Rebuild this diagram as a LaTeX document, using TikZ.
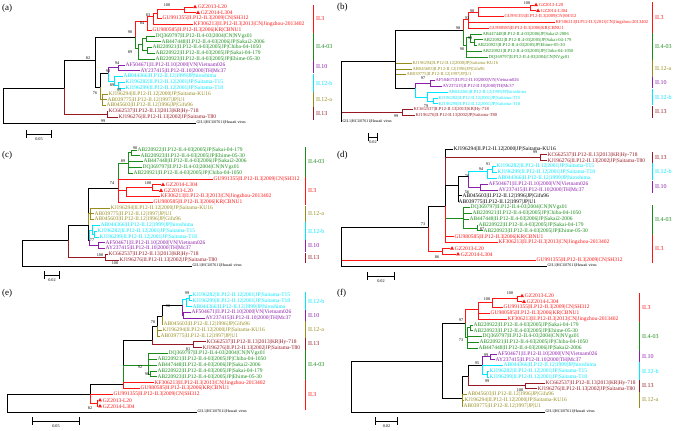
\documentclass[tikz,border=0pt]{standalone}
\usepackage{fontspec}
\setmainfont{Liberation Serif}
\usetikzlibrary{positioning,shapes.geometric}
\definecolor{cR}{RGB}{255,20,20}
\definecolor{cG}{RGB}{25,140,25}
\definecolor{cP}{RGB}{140,30,170}
\definecolor{cC}{RGB}{0,230,255}
\definecolor{cO}{RGB}{150,140,30}
\definecolor{cD}{RGB}{150,25,35}
\newcommand{\leafsize}{\fontsize{5.5}{5.8}\selectfont}
\newcommand{\smallleaf}{\fontsize{4.6}{5}\selectfont}
\newcommand{\outsize}{\fontsize{4}{4.4}\selectfont}
\newcommand{\bootsize}{\fontsize{4.2}{4.4}\selectfont}
\newcommand{\cladesize}{\fontsize{6}{6.5}\selectfont}

\begin{document}
\begin{tikzpicture}[x=1pt,y=-1pt,
  every edge/.append style={line width=.85pt, to path={|- (\tikztotarget)}},
  lf/.style={anchor=west, inner sep=.4pt, font=\leafsize},
  og/.style={anchor=west, inner sep=.4pt, font=\outsize},
  bs/.style={inner sep=0pt, font=\bootsize},
  tri/.style={regular polygon, regular polygon sides=3, fill=cR, inner sep=0pt, minimum size=4.6pt},
  clade/.style={line width=1pt},
  cl/.style={anchor=west, inner sep=0pt, xshift=2.5pt, font=\cladesize},
  panel/.style={anchor=west, inner sep=0pt, font=\fontsize{9}{10}\selectfont},
  sbar/.style={line width=.8pt, |-|},
  sl/.style={inner sep=0pt, font=\bootsize}]
\useasboundingbox (0,0) rectangle (675,431);

% ---------------- (a)
\node[panel] (a_lab) at (2,8) {(a)};
\coordinate (a_root) at (3,105);
\coordinate (a_n1) at (64,88);
\coordinate (a_n2) at (95,60);
\coordinate (a_n3) at (135,37);
\coordinate (a_r1) at (147,21);
\coordinate (a_r2) at (153,16);
\coordinate (a_r3) at (157,13);
\coordinate (a_r4) at (184,9.9);
\coordinate (a_g1) at (138,48);
\coordinate (a_g2) at (142,44.7);
\coordinate (a_g3) at (146,38.9);
\coordinate (a_g4) at (147,50.5);
\coordinate (a_n4) at (100,87);
\coordinate (a_n5) at (108,73);
\coordinate (a_p1) at (118,67.9);
\coordinate (a_c1) at (114,81);
\coordinate (a_c2) at (118,85.3);
\coordinate (a_o1) at (102,99.8);
\coordinate (a_n13) at (107,114.3);

\node[tri] (a_t1) at (195,7) {};
\node[lf,cR,right=.8pt of a_t1] (a_1) {GZ2013-L20};
\node[tri] (a_t2) at (198,12.8) {};
\node[lf,cR,right=.8pt of a_t2] (a_2) {GZ2014-L304};
\node[lf,cR] (a_3) at (162,18.6) {GU991355|II.P12-II.3|2009|CN|SH312};
\node[lf,cR] (a_4) at (193,24.4) {KF306213|II.P12-II.3|2013|CN|Jingzhou-2013402};
\node[lf,cR] (a_5) at (152,30.2) {GU980585|II.P12-II.3|2006|KR|CBNU1};
\node[lf,cG] (a_6) at (155,36) {DQ369797|II.P12-II.4-03|2004|CN|NVgz01};
\node[lf,cG] (a_7) at (161,41.8) {AB447448|II.P12-II.4-03|2006|JP|Sakai2-2006};
\node[lf,cG] (a_8) at (152,47.6) {AB220921|II.P12-II.4-03|2005|JP|Chiba-04-1050};
\node[lf,cG] (a_9) at (155,53.4) {AB220922|II.P12-II.4-03|2005|JP|Sakai-04-179};
\node[lf,cG] (a_10) at (155,59.2) {AB220923|II.P12-II.4-03|2005|JP|Ehime-05-30};
\node[lf,cP] (a_11) at (125,65) {AF504671|II.P12-II.10|2000|VN|Vietnam026};
\node[lf,cP] (a_12) at (140,70.8) {AY237415|II.P12-II.10|2000|TH|Mc37};
\node[lf,cC] (a_13) at (123,76.6) {AB044366|II.P12-II.12|1999|JP|hiroshima};
\node[lf,cC] (a_14) at (125,82.4) {KJ196282|II.P12-II.12|2001|JP|Saitama-T15};
\node[lf,cC] (a_15) at (125,88.2) {KJ196299|II.P12-II.12|2001|JP|Saitama-T18};
\node[lf,cO] (a_16) at (108,94) {KJ196294|II.P12-II.12|2000|JP|Saitama-KU16};
\node[lf,cO] (a_17) at (107,99.8) {AB039775|II.P12-II.12|1997|JP|U1};
\node[lf,cO] (a_18) at (106,105.6) {AB045603|II.P12-II.12|1996|JP|Gifu96};
\node[lf,cD] (a_19) at (108,111.4) {KC662537|II.P12-II.13|2013|KR|Hy-718};
\node[lf,cD] (a_20) at (118,117.2) {KJ196276|II.P12-II.13|2002|JP|Saitama-T80};
\node[og] (a_21) at (196,123) {GII.1|HCU07611|Hawaii virus};

\path (a_root) edge (a_n1) edge (a_21)
      (a_n1) edge (a_n2) edge[cD] (a_n13)
      (a_n2) edge (a_n3) edge (a_n4)
      (a_n3) edge[cR] (a_r1) edge[cG] (a_g1)
      (a_r1) edge[cR] (a_r2) edge[cR] (a_5)
      (a_r2) edge[cR] (a_r3) edge[cR] (a_4)
      (a_r3) edge[cR] (a_r4) edge[cR] (a_3)
      (a_r4) edge[cR] (a_t1) edge[cR] (a_t2)
      (a_g1) edge[cG] (a_g2) edge[cG] (a_10)
      (a_g2) edge[cG] (a_g3) edge[cG] (a_g4)
      (a_g3) edge[cG] (a_6) edge[cG] (a_7)
      (a_g4) edge[cG] (a_8) edge[cG] (a_9)
      (a_n4) edge (a_n5) edge[cO] (a_o1)
      (a_n5) edge[cP] (a_p1) edge[cC] (a_c1)
      (a_p1) edge[cP] (a_11) edge[cP] (a_12)
      (a_c1) edge[cC] (a_13) edge[cC] (a_c2)
      (a_c2) edge[cC] (a_14) edge[cC] (a_15)
      (a_o1) edge[cO] (a_16) edge[cO] (a_17) edge[cO] (a_18)
      (a_n13) edge[cD] (a_19) edge[cD] (a_20);

\node[bs] (a_b1) at (167,5.5) {100};
\node[bs] (a_b2) at (148,15.5) {83};
\node[bs] (a_b3) at (142,23) {84};
\node[bs] (a_b4) at (130,32) {90};
\node[bs] (a_b5) at (130,52) {89};
\node[bs] (a_b6) at (88,58) {82};
\node[bs] (a_b7) at (117,63) {94};
\node[bs] (a_b8) at (108,71) {93};
\node[bs] (a_b9) at (112,85.5) {89};
\node[bs] (a_b10) at (119,90.3) {99};
\node[bs] (a_b11) at (95,93) {76};
\node[bs] (a_b12) at (103,121) {99};

\draw[clade,cR] (313,5) -- (313,33) node[cl,midway] (a_q1) {II.3};
\draw[clade,cG] (313,33) -- (313,61) node[cl,midway] (a_q2) {II.4-03};
\draw[clade,cP] (313,61) -- (313,73) node[cl,midway] (a_q3) {II.10};
\draw[clade,cC] (313,74) -- (313,92) node[cl,midway] (a_q4) {II.12-b};
\draw[clade,cO] (313,92) -- (313,107) node[cl,midway] (a_q5) {II.12-a};
\draw[clade,cD] (313,107) -- (313,120) node[cl,midway] (a_q6) {II.13};

\coordinate (a_s1) at (26,134); \coordinate (a_s2) at (52,134);
\draw[sbar] (a_s1) -- (a_s2) node[sl,midway,below=3pt] (a_sl) {0.05};

% ---------------- (b)
\tikzset{lf/.append style={font=\smallleaf}}
\node[panel] (b_lab) at (337,7) {(b)};
\coordinate (b_root) at (341,90);
\coordinate (b_n1) at (395,61);
\coordinate (b_n2) at (463,30);
\coordinate (b_r1) at (468,19);
\coordinate (b_r2) at (478,12.5);
\coordinate (b_r4) at (530,7.9);
\coordinate (b_g1) at (466,45);
\coordinate (b_g2) at (470,37);
\coordinate (b_g3) at (474,42.8);
\coordinate (b_n3) at (415,88);
\coordinate (b_p1) at (430,83.6);
\coordinate (b_c1) at (427,97);
\coordinate (b_c2) at (433,101);
\coordinate (b_n13) at (402,112.7);

\node[tri] (b_t1) at (536,5) {};
\node[lf,cR,right=.8pt of b_t1] (b_1) {GZ2013-L20};
\node[tri] (b_t2) at (538,10.8) {};
\node[lf,cR,right=.8pt of b_t2] (b_2) {GZ2014-L304};
\node[lf,cR] (b_3) at (504,16.6) {GU991355|II.P12-II.3|2009|CN|SH312};
\node[lf,cR] (b_4) at (555,22.5) {KF306213|II.P12-II.3|2013|CN|Jingzhou-2013402};
\node[lf,cR] (b_5) at (489,28.3) {GU980585|II.P12-II.3|2006|KR|CBNU1};
\node[lf,cG] (b_6) at (482,34.1) {AB447448|II.P12-II.4-03|2006|JP|Sakai2-2006};
\node[lf,cG] (b_7) at (483,39.9) {AB220922|II.P12-II.4-03|2005|JP|Sakai-04-179};
\node[lf,cG] (b_8) at (477,45.7) {AB220923|II.P12-II.4-03|2005|JP|Ehime-05-30};
\node[lf,cG] (b_9) at (482,51.6) {AB220921|II.P12-II.4-03|2005|JP|Chiba-04-1050};
\node[lf,cG] (b_10) at (488,57.4) {DQ369797|II.P12-II.4-03|2004|CN|NVgz01};
\node[lf,cO] (b_11) at (412,63.2) {KJ196294|II.P12-II.12|2000|JP|Saitama-KU16};
\node[lf,cO] (b_12) at (412,69) {AB045603|II.P12-II.12|1996|JP|Gifu96};
\node[lf,cO] (b_13) at (406,74.8) {AB039775|II.P12-II.12|1997|JP|U1};
\node[lf,cP] (b_14) at (435,80.7) {AF504671|II.P12-II.10|2000|VN|Vietnam026};
\node[lf,cP] (b_15) at (442,86.5) {AY237415|II.P12-II.10|2000|TH|Mc37};
\node[lf,cC] (b_16) at (448,92.3) {AB044366|II.P12-II.12|1999|JP|hiroshima};
\node[lf,cC] (b_17) at (438,98.1) {KJ196282|II.P12-II.12|2001|JP|Saitama-T15};
\node[lf,cC] (b_18) at (438,103.9) {KJ196299|II.P12-II.12|2001|JP|Saitama-T18};
\node[lf,cD] (b_19) at (413,109.8) {KC662537|II.P12-II.13|2013|KR|Hy-718};
\node[lf,cD] (b_20) at (415,115.6) {KJ196276|II.P12-II.13|2002|JP|Saitama-T80};
\node[og] (b_21) at (342,121.4) {GII.1|HCU07611|Hawaii virus};

\path (b_root) edge (b_n1) edge[cD] (b_n13) edge (b_21)
      (b_n1) edge (b_n2) edge[cO] (b_11) edge[cO] (b_12) edge[cO] (b_13) edge (b_n3)
      (b_n2) edge[cR] (b_r1) edge[cG] (b_g1)
      (b_r1) edge[cR] (b_r2) edge[cR] (b_4) edge[cR] (b_5)
      (b_r2) edge[cR] (b_r4) edge[cR] (b_3)
      (b_r4) edge[cR] (b_t1) edge[cR] (b_t2)
      (b_g1) edge[cG] (b_g2) edge[cG] (b_9) edge[cG] (b_10)
      (b_g2) edge[cG] (b_6) edge[cG] (b_g3)
      (b_g3) edge[cG] (b_7) edge[cG] (b_8)
      (b_n3) edge[cP] (b_p1) edge[cC] (b_c1)
      (b_p1) edge[cP] (b_14) edge[cP] (b_15)
      (b_c1) edge[cC] (b_16) edge[cC] (b_c2)
      (b_c2) edge[cC] (b_17) edge[cC] (b_18)
      (b_n13) edge[cD] (b_19) edge[cD] (b_20);

\node[bs] (b_b1) at (527,3) {100};
\node[bs] (b_b2) at (472,11) {90};
\node[bs] (b_b3) at (467,18) {93};
\node[bs] (b_b4) at (458,28) {98};
\node[bs] (b_b5) at (470,38) {99};
\node[bs] (b_b6) at (462,49) {90};
\node[bs] (b_b7) at (423,78) {97};
\node[bs] (b_b8) at (426,106.4) {79};
\node[bs] (b_b9) at (396,116.5) {99};

\draw[clade,cR] (652,2) -- (652,33) node[cl,midway] (b_q1) {II.3};
\draw[clade,cG] (652,33) -- (652,60) node[cl,midway] (b_q2) {II.4-03};
\draw[clade,cO] (652,60) -- (652,77) node[cl,midway] (b_q3) {II.12-a};
\draw[clade,cP] (652,77) -- (652,88) node[cl,midway] (b_q4) {II.10};
\draw[clade,cC] (652,89) -- (652,105) node[cl,midway] (b_q5) {II.12-b};
\draw[clade,cD] (652,106) -- (652,118) node[cl,midway] (b_q6) {II.13};

\coordinate (b_s1) at (368,137); \coordinate (b_s2) at (378,137);
\draw[sbar] (b_s1) -- (b_s2) node[sl,midway,below=3pt] (b_sl) {0.02};
\tikzset{lf/.append style={font=\leafsize}}

% ---------------- (c)
\node[panel] (c_lab) at (2,155) {(c)};
\coordinate (c_root) at (22,253);
\coordinate (c_n1) at (68,240);
\coordinate (c_n2) at (88,225);
\coordinate (c_n3) at (118,188);
\coordinate (c_g1) at (128,163);
\coordinate (c_g2) at (131,152.9);
\coordinate (c_r1) at (126,190);
\coordinate (c_r2) at (152,187.7);
\coordinate (c_o1) at (90,213.8);
\coordinate (c_n4) at (89,240);
\coordinate (c_c1) at (92,230);
\coordinate (c_c2) at (94,234.1);
\coordinate (c_p1) at (98,245.7);
\coordinate (c_n13) at (105,257.3);

\node[lf,cG] (c_1) at (137,150) {AB220922|II.P12-II.4-03|2005|JP|Sakai-04-179};
\node[lf,cG] (c_2) at (140,155.8) {AB220923|II.P12-II.4-03|2005|JP|Ehime-05-30};
\node[lf,cG] (c_3) at (143,161.6) {AB447448|II.P12-II.4-03|2006|JP|Sakai2-2006};
\node[lf,cG] (c_4) at (142,167.4) {DQ369797|II.P12-II.4-03|2004|CN|NVgz01};
\node[lf,cG] (c_5) at (133,173.2) {AB220921|II.P12-II.4-03|2005|JP|Chiba-04-1050};
\node[lf,cR] (c_6) at (213,179) {GU991355|II.P12-II.3|2009|CN|SH312};
\node[tri] (c_t7) at (163,184.8) {};
\node[lf,cR,right=.8pt of c_t7] (c_7) {GZ2014-L304};
\node[tri] (c_t8) at (161,190.6) {};
\node[lf,cR,right=.8pt of c_t8] (c_8) {GZ2013-L20};
\node[lf,cR] (c_9) at (160,196.4) {KF306213|II.P12-II.3|2013|CN|Jingzhou-2013402};
\node[lf,cR] (c_10) at (153,202.2) {GU980585|II.P12-II.3|2006|KR|CBNU1};
\node[lf,cO] (c_11) at (110,208) {KJ196294|II.P12-II.12|2000|JP|Saitama-KU16};
\node[lf,cO] (c_12) at (94,213.8) {AB039775|II.P12-II.12|1997|JP|U1};
\node[lf,cO] (c_13) at (94,219.6) {AB045603|II.P12-II.12|1996|JP|Gifu96};
\node[lf,cC] (c_14) at (100,225.4) {AB044366|II.P12-II.12|1999|JP|hiroshima};
\node[lf,cC] (c_15) at (97,231.2) {KJ196282|II.P12-II.12|2001|JP|Saitama-T15};
\node[lf,cC] (c_16) at (99,237) {KJ196299|II.P12-II.12|2001|JP|Saitama-T18};
\node[lf,cP] (c_17) at (105,242.8) {AF504671|II.P12-II.10|2000|VN|Vietnam026};
\node[lf,cP] (c_18) at (105,248.6) {AY237415|II.P12-II.10|2000|TH|Mc37};
\node[lf,cD] (c_19) at (108,254.4) {KC662537|II.P12-II.13|2013|KR|Hy-718};
\node[lf,cD] (c_20) at (119,260.2) {KJ196276|II.P12-II.13|2002|JP|Saitama-T80};
\node[og] (c_21) at (192,266) {GII.1|HCU07611|Hawaii virus};

\path (c_root) edge (c_n1) edge (c_21)
      (c_n1) edge (c_n2) edge[cD] (c_n13)
      (c_n2) edge (c_n3) edge[cO] (c_o1) edge (c_n4)
      (c_n3) edge[cG] (c_g1) edge[cR] (c_6) edge[cR] (c_r1) edge[cR] (c_10)
      (c_g1) edge[cG] (c_g2) edge[cG] (c_3) edge[cG] (c_4) edge[cG] (c_5)
      (c_g2) edge[cG] (c_1) edge[cG] (c_2)
      (c_r1) edge[cR] (c_r2) edge[cR] (c_9)
      (c_r2) edge[cR] (c_t7) edge[cR] (c_t8)
      (c_o1) edge[cO] (c_11) edge[cO] (c_12) edge[cO] (c_13)
      (c_n4) edge[cC] (c_c1) edge[cP] (c_p1)
      (c_c1) edge[cC] (c_14) edge[cC] (c_c2)
      (c_c2) edge[cC] (c_15) edge[cC] (c_16)
      (c_p1) edge[cP] (c_17) edge[cP] (c_18)
      (c_n13) edge[cD] (c_19) edge[cD] (c_20);

\node[bs] (c_b1) at (135,148.5) {90};
\node[bs] (c_b2) at (123,161) {89};
\node[bs] (c_b3) at (112,183) {74};
\node[bs] (c_b4) at (148,183) {100};
\node[bs] (c_b5) at (92,240) {77};
\node[bs] (c_b6) at (100,255) {100};
\node[bs] (c_b7) at (115,263) {100};

\draw[clade,cG] (305,147) -- (305,177) node[cl,midway] (c_q1) {II.4-03};
\draw[clade,cR] (305,177) -- (305,205) node[cl,midway] (c_q2) {II.3};
\draw[clade,cO] (305,206) -- (305,222) node[cl,midway] (c_q3) {II.12-a};
\draw[clade,cC] (305,222) -- (305,240) node[cl,midway] (c_q4) {II.12-b};
\draw[clade,cP] (305,240) -- (305,252) node[cl,midway] (c_q5) {II.10};
\draw[clade,cD] (305,253) -- (305,263) node[cl,midway] (c_q6) {II.13};

\coordinate (c_s1) at (44,275); \coordinate (c_s2) at (60,275);
\draw[sbar] (c_s1) -- (c_s2) node[sl,midway,below=3pt] (c_sl) {0.02};

% ---------------- (d)
\node[panel] (d_lab) at (337,155) {(d)};
\coordinate (d_root) at (341,250);
\coordinate (d_n1) at (428,227);
\coordinate (d_n2) at (445,206);
\coordinate (d_n13) at (540,157.8);
\coordinate (d_n3) at (458,185);
\coordinate (d_n4) at (468,176);
\coordinate (d_c1) at (487,171);
\coordinate (d_c2) at (492,169.5);
\coordinate (d_p1) at (480,187);
\coordinate (d_g1) at (463,218);
\coordinate (d_g2) at (477,228);
\coordinate (d_r1) at (442,251.4);

\node[lf] (d_1) at (453,149) {KJ196294|II.P12-II.12|2000|JP|Saitama-KU16};
\node[lf,cD] (d_2) at (547,154.9) {KC662537|II.P12-II.13|2013|KR|Hy-718};
\node[lf,cD] (d_3) at (547,160.7) {KJ196276|II.P12-II.13|2002|JP|Saitama-T80};
\node[lf,cC] (d_4) at (496,166.6) {KJ196282|II.P12-II.12|2001|JP|Saitama-T15};
\node[lf,cC] (d_5) at (497,172.4) {KJ196299|II.P12-II.12|2001|JP|Saitama-T18};
\node[lf,cC] (d_6) at (497,178.3) {AB044366|II.P12-II.12|1999|JP|hiroshima};
\node[lf,cP] (d_7) at (488,184.1) {AF504671|II.P12-II.10|2000|VN|Vietnam026};
\node[lf,cP] (d_8) at (498,190) {AY237415|II.P12-II.10|2000|TH|Mc37};
\node[lf] (d_9) at (462,195.8) {AB045603|II.P12-II.12|1996|JP|Gifu96};
\node[lf] (d_10) at (458,201.7) {AB039775|II.P12-II.12|1997|JP|U1};
\node[lf,cG] (d_11) at (470,207.5) {DQ369797|II.P12-II.4-03|2004|CN|NVgz01};
\node[lf,cG] (d_12) at (472,213.4) {AB220921|II.P12-II.4-03|2005|JP|Chiba-04-1050};
\node[lf,cG] (d_13) at (469,219.2) {AB447448|II.P12-II.4-03|2006|JP|Sakai2-2006};
\node[lf,cG] (d_14) at (478,225.1) {AB220922|II.P12-II.4-03|2005|JP|Sakai-04-179};
\node[lf,cG] (d_15) at (483,230.9) {AB220923|II.P12-II.4-03|2005|JP|Ehime-05-30};
\node[lf,cR] (d_16) at (454,236.8) {GU980585|II.P12-II.3|2006|KR|CBNU1};
\node[lf,cR] (d_17) at (498,242.6) {KF306213|II.P12-II.3|2013|CN|Jingzhou-2013402};
\node[tri] (d_t18) at (452,248.5) {};
\node[lf,cR,right=.8pt of d_t18] (d_18) {GZ2013-L20};
\node[tri] (d_t19) at (458,254.3) {};
\node[lf,cR,right=.8pt of d_t19] (d_19) {GZ2014-L304};
\node[lf,cR] (d_20) at (536,260.2) {GU991355|II.P12-II.3|2009|CN|SH312};
\node[og] (d_21) at (547,266) {GII.1|HCU07611|Hawaii virus};

\path (d_root) edge (d_n1) edge[cR] (d_20) edge (d_21)
      (d_n1) edge (d_n2) edge[cR] (d_r1)
      (d_n2) edge (d_1) edge[cD] (d_n13) edge (d_n3) edge[cG] (d_g1) edge[cR] (d_16) edge[cR] (d_17)
      (d_n13) edge[cD] (d_2) edge[cD] (d_3)
      (d_n3) edge (d_n4) edge (d_9) edge (d_10)
      (d_n4) edge[cC] (d_c1) edge[cP] (d_p1)
      (d_c1) edge[cC] (d_c2) edge[cC] (d_6)
      (d_c2) edge[cC] (d_4) edge[cC] (d_5)
      (d_p1) edge[cP] (d_7) edge[cP] (d_8)
      (d_g1) edge[cG] (d_11) edge[cG] (d_12) edge[cG] (d_13) edge[cG] (d_g2)
      (d_g2) edge[cG] (d_14) edge[cG] (d_15)
      (d_r1) edge[cR] (d_t18) edge[cR] (d_t19);

\node[bs] (d_b1) at (535,152) {99};
\node[bs] (d_b2) at (488,164.5) {91};
\node[bs] (d_b3) at (481,169.5) {94};
\node[bs] (d_b4) at (467,176.5) {78};
\node[bs] (d_b5) at (467,192) {56};
\node[bs] (d_b6) at (423,224) {73};
\node[bs] (d_b7) at (482,229) {87};
\node[bs] (d_b8) at (437,257) {86};

\draw[clade,cD] (652,152) -- (652,163) node[cl,midway] (d_q1) {II.13};
\draw[clade,cC] (652,163) -- (652,180) node[cl,midway] (d_q2) {II.12-b};
\draw[clade,cP] (652,181) -- (652,193) node[cl,midway] (d_q3) {II.10};
\draw[clade,cG] (652,205) -- (652,235) node[cl,midway] (d_q4) {II.4-03};
\draw[clade,cR] (652,235) -- (652,263) node[cl,midway] (d_q5) {II.3};

\coordinate (d_s1) at (367,276); \coordinate (d_s2) at (395,276);
\draw[sbar] (d_s1) -- (d_s2) node[sl,midway,below=3pt] (d_sl) {0.02};

% ---------------- (e)
\node[panel] (e_lab) at (2,293) {(e)};
\coordinate (e_root) at (7,403);
\coordinate (e_n1) at (90,394.5);
\coordinate (e_r1) at (97,403.2);
\coordinate (e_n2) at (123,384);
\coordinate (e_n3) at (152,340);
\coordinate (e_n4) at (157,326);
\coordinate (e_n5) at (162,316);
\coordinate (e_n6) at (182,305);
\coordinate (e_c1) at (186,299);
\coordinate (e_c2) at (189,298);
\coordinate (e_p1) at (183,315.5);
\coordinate (e_n13) at (193,344.7);
\coordinate (e_g1) at (148,365);
\coordinate (e_g2) at (150,374);

\node[lf,cC] (e_1) at (192,295) {KJ196282|II.P12-II.12|2001|JP|Saitama-T15};
\node[lf,cC] (e_2) at (192,300.9) {KJ196299|II.P12-II.12|2001|JP|Saitama-T18};
\node[lf,cC] (e_3) at (192,306.7) {AB044366|II.P12-II.12|1999|JP|hiroshima};
\node[lf,cP] (e_4) at (191,312.6) {AF504671|II.P12-II.10|2000|VN|Vietnam026};
\node[lf,cP] (e_5) at (205,318.4) {AY237415|II.P12-II.10|2000|TH|Mc37};
\node[lf,cO] (e_6) at (163,324.3) {AB045603|II.P12-II.12|1996|JP|Gifu96};
\node[lf,cO] (e_7) at (162,330.1) {KJ196294|II.P12-II.12|2000|JP|Saitama-KU16};
\node[lf,cO] (e_8) at (160,336) {AB039775|II.P12-II.12|1997|JP|U1};
\node[lf,cD] (e_9) at (206,341.8) {KC662537|II.P12-II.13|2013|KR|Hy-718};
\node[lf,cD] (e_10) at (202,347.7) {KJ196276|II.P12-II.13|2002|JP|Saitama-T80};
\node[lf,cG] (e_11) at (168,353.5) {DQ369797|II.P12-II.4-03|2004|CN|NVgz01};
\node[lf,cG] (e_12) at (157,359.4) {AB220921|II.P12-II.4-03|2005|JP|Chiba-04-1050};
\node[lf,cG] (e_13) at (157,365.2) {AB447448|II.P12-II.4-03|2006|JP|Sakai2-2006};
\node[lf,cG] (e_14) at (157,371.1) {AB220922|II.P12-II.4-03|2005|JP|Sakai-04-179};
\node[lf,cG] (e_15) at (157,376.9) {AB220923|II.P12-II.4-03|2005|JP|Ehime-05-30};
\node[lf,cR] (e_16) at (154,382.8) {KF306213|II.P12-II.3|2013|CN|Jingzhou-2013402};
\node[lf,cR] (e_17) at (140,388.6) {GU980585|II.P12-II.3|2006|KR|CBNU1};
\node[lf,cR] (e_18) at (113,394.5) {GU991355|II.P12-II.3|2009|CN|SH312};
\node[tri] (e_t19) at (100,400.3) {};
\node[lf,cR,right=.8pt of e_t19] (e_19) {GZ2013-L20};
\node[tri] (e_t20) at (100,406.2) {};
\node[lf,cR,right=.8pt of e_t20] (e_20) {GZ2014-L304};
\node[og] (e_21) at (197,412) {GII.1|HCU07611|Hawaii virus};

\path (e_root) edge (e_n1) edge (e_21)
      (e_n1) edge (e_n2) edge[cR] (e_18) edge[cR] (e_r1)
      (e_r1) edge[cR] (e_t19) edge[cR] (e_t20)
      (e_n2) edge (e_n3) edge[cG] (e_g1) edge[cR] (e_16) edge[cR] (e_17)
      (e_n3) edge (e_n4) edge[cD] (e_n13)
      (e_n4) edge (e_n5) edge[cO] (e_7) edge[cO] (e_8)
      (e_n5) edge (e_n6) edge[cO] (e_6)
      (e_n6) edge[cC] (e_c1) edge[cP] (e_p1)
      (e_c1) edge[cC] (e_c2) edge[cC] (e_3)
      (e_c2) edge[cC] (e_1) edge[cC] (e_2)
      (e_p1) edge[cP] (e_4) edge[cP] (e_5)
      (e_n13) edge[cD] (e_9) edge[cD] (e_10)
      (e_g1) edge[cG] (e_11) edge[cG] (e_12) edge[cG] (e_13) edge[cG] (e_g2)
      (e_g2) edge[cG] (e_14) edge[cG] (e_15);

\node[bs] (e_b1) at (187,293) {99};
\node[bs] (e_b2) at (168,306.5) {98};
\node[bs] (e_b3) at (153,322) {70};
\node[bs] (e_b4) at (188,349.3) {81};
\node[bs] (e_b5) at (140,367) {92};
\node[bs] (e_b6) at (147,374) {90};
\node[bs] (e_b7) at (90,408) {82};

\draw[clade,cC] (305,292) -- (305,310) node[cl,midway] (e_q1) {II.12-b};
\draw[clade,cP] (305,310) -- (305,321) node[cl,midway] (e_q2) {II.10};
\draw[clade,cO] (305,321) -- (305,338) node[cl,midway] (e_q3) {II.12-a};
\draw[clade,cD] (305,338) -- (305,350) node[cl,midway] (e_q4) {II.13};
\draw[clade,cG] (305,350) -- (305,380) node[cl,midway] (e_q5) {II.4-03};
\draw[clade,cR] (305,380) -- (305,410) node[cl,midway] (e_q6) {II.3};

\coordinate (e_s1) at (32,421); \coordinate (e_s2) at (80,421);
\draw[sbar] (e_s1) -- (e_s2) node[sl,midway,below=3pt] (e_sl) {0.05};

% ---------------- (f)
\node[panel] (f_lab) at (337,293) {(f)};
\coordinate (f_root) at (351,386);
\coordinate (f_n1) at (442,361);
\coordinate (f_n2) at (465,323);
\coordinate (f_r1) at (478,309);
\coordinate (f_r2) at (492,302);
\coordinate (f_r3) at (517,298.9);
\coordinate (f_g1) at (467,337);
\coordinate (f_g2) at (470,327.9);
\coordinate (f_n3) at (462,398);
\coordinate (f_n4) at (468,376);
\coordinate (f_n5) at (482,365);
\coordinate (f_p1) at (490,356.9);
\coordinate (f_c2) at (487,374.3);
\coordinate (f_n13) at (525,385.9);

\node[tri] (f_t1) at (522,296) {};
\node[lf,cR,right=.8pt of f_t1] (f_1) {GZ2013-L20};
\node[tri] (f_t2) at (524,301.8) {};
\node[lf,cR,right=.8pt of f_t2] (f_2) {GZ2014-L304};
\node[lf,cR] (f_3) at (503,307.6) {GU991355|II.P12-II.3|2009|CN|SH312};
\node[lf,cR] (f_4) at (490,313.4) {GU980585|II.P12-II.3|2006|KR|CBNU1};
\node[lf,cR] (f_5) at (507,319.2) {KF306213|II.P12-II.3|2013|CN|Jingzhou-2013402};
\node[lf,cG] (f_6) at (473,325) {AB220922|II.P12-II.4-03|2005|JP|Sakai-04-179};
\node[lf,cG] (f_7) at (473,330.8) {AB220923|II.P12-II.4-03|2005|JP|Ehime-05-30};
\node[lf,cG] (f_8) at (482,336.6) {DQ369797|II.P12-II.4-03|2004|CN|NVgz01};
\node[lf,cG] (f_9) at (479,342.4) {AB220921|II.P12-II.4-03|2005|JP|Chiba-04-1050};
\node[lf,cG] (f_10) at (478,348.2) {AB447448|II.P12-II.4-03|2006|JP|Sakai2-2006};
\node[lf,cP] (f_11) at (497,354) {AF504671|II.P12-II.10|2000|VN|Vietnam026};
\node[lf,cP] (f_12) at (495,359.8) {AY237415|II.P12-II.10|2000|TH|Mc37};
\node[lf,cC] (f_13) at (503,365.6) {AB044366|II.P12-II.12|1999|JP|hiroshima};
\node[lf,cC] (f_14) at (489,371.4) {KJ196282|II.P12-II.12|2001|JP|Saitama-T15};
\node[lf,cC] (f_15) at (489,377.2) {KJ196299|II.P12-II.12|2001|JP|Saitama-T18};
\node[lf,cD] (f_16) at (545,383) {KC662537|II.P12-II.13|2013|KR|Hy-718};
\node[lf,cD] (f_17) at (537,388.8) {KJ196276|II.P12-II.13|2002|JP|Saitama-T80};
\node[lf,cO] (f_18) at (467,394.6) {AB045603|II.P12-II.12|1996|JP|Gifu96};
\node[lf,cO] (f_19) at (464,400.4) {KJ196294|II.P12-II.12|2000|JP|Saitama-KU16};
\node[lf,cO] (f_20) at (463,406.2) {AB039775|II.P12-II.12|1997|JP|U1};
\node[og] (f_21) at (545,412) {GII.1|HCU07611|Hawaii virus};

\path (f_root) edge (f_n1) edge (f_21)
      (f_n1) edge (f_n2) edge (f_n3)
      (f_n2) edge[cR] (f_r1) edge[cG] (f_g1)
      (f_r1) edge[cR] (f_r2) edge[cR] (f_4) edge[cR] (f_5)
      (f_r2) edge[cR] (f_r3) edge[cR] (f_3)
      (f_r3) edge[cR] (f_t1) edge[cR] (f_t2)
      (f_g1) edge[cG] (f_g2) edge[cG] (f_8) edge[cG] (f_9) edge[cG] (f_10)
      (f_g2) edge[cG] (f_6) edge[cG] (f_7)
      (f_n3) edge (f_n4) edge[cO] (f_18) edge[cO] (f_19) edge[cO] (f_20)
      (f_n4) edge (f_n5) edge[cD] (f_n13)
      (f_n5) edge[cP] (f_p1) edge[cC] (f_13) edge[cC] (f_c2)
      (f_p1) edge[cP] (f_11) edge[cP] (f_12)
      (f_c2) edge[cC] (f_14) edge[cC] (f_15)
      (f_n13) edge[cD] (f_16) edge[cD] (f_17);

\node[bs] (f_b1) at (510,293.5) {100};
\node[bs] (f_b2) at (487,299) {100};
\node[bs] (f_b3) at (461,320.5) {97};
\node[bs] (f_b4) at (461,340) {73};
\node[bs] (f_b5) at (486,355.4) {99};
\node[bs] (f_b6) at (477,363) {95};
\node[bs] (f_b7) at (487,381.5) {99};
\node[bs] (f_b8) at (520,390.5) {100};

\draw[clade,cR] (639,293) -- (639,322) node[cl,midway] (f_q1) {II.3};
\draw[clade,cG] (639,322) -- (639,351) node[cl,midway] (f_q2) {II.4-03};
\draw[clade,cP] (639,351) -- (639,362) node[cl,midway] (f_q3) {II.10};
\draw[clade,cC] (639,362) -- (639,380) node[cl,midway] (f_q4) {II.12-b};
\draw[clade,cD] (639,380) -- (639,392) node[cl,midway] (f_q5) {II.13};
\draw[clade,cO] (639,392) -- (639,408) node[cl,midway] (f_q6) {II.12-a};

\coordinate (f_s1) at (375,421); \coordinate (f_s2) at (398,421);
\draw[sbar] (f_s1) -- (f_s2) node[sl,midway,below=3pt] (f_sl) {0.02};
\end{tikzpicture}
\end{document}
